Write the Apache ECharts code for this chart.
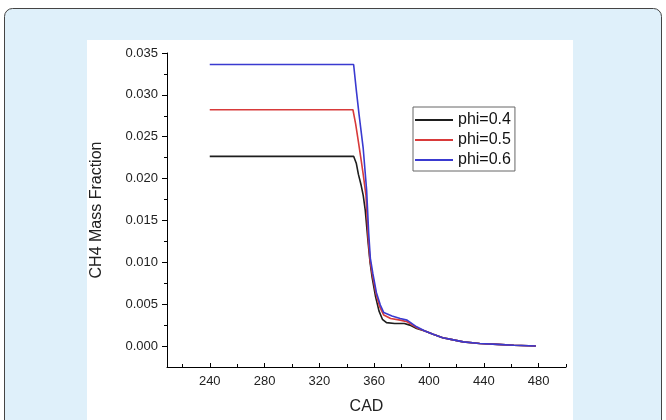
<!DOCTYPE html>
<html>
<head>
<meta charset="utf-8">
<script src="https://cdn.jsdelivr.net/npm/echarts@6/dist/echarts.min.js"></script>
<style>
html,body{margin:0;padding:0;background:#ffffff;}
#c{width:666px;height:420px;}
</style>
</head>
<body>
<div id="c"></div>
<script>
// ---- data ----
const seriesNames = ['phi=0.4', 'phi=0.5', 'phi=0.6'];
const cad04 = [240, 345, 347, 348.5, 350.5, 352, 353.5, 355.5, 357, 358.5, 361, 363.5, 366, 369, 375, 382, 386, 391, 397, 403, 410, 416, 425, 437, 450, 462, 478];
const ch4_04 = [0.02266, 0.02266, 0.0218, 0.0205, 0.0192, 0.0180, 0.0162, 0.0125, 0.0100, 0.0082, 0.0059, 0.0042, 0.0032, 0.0028, 0.0027, 0.0027, 0.0025, 0.0021, 0.0018, 0.0014, 0.0010, 0.0008, 0.0005, 0.0003, 0.0002, 0.0001, 0.0];
const cad05 = [240, 344.5, 346.5, 348.5, 350.5, 352, 354, 355.7, 357, 358.7, 361.4, 364, 367, 372, 379, 384, 391, 397, 403, 410, 416, 425, 437, 450, 462, 478];
const ch4_05 = [0.02822, 0.02822, 0.0265, 0.0244, 0.0222, 0.0205, 0.0180, 0.0128, 0.0102, 0.0085, 0.0062, 0.0047, 0.0037, 0.0033, 0.0031, 0.0029, 0.0022, 0.0018, 0.0014, 0.0010, 0.0008, 0.0005, 0.0003, 0.0002, 0.0001, 0.0];
const cad06 = [240, 345, 347, 349, 352, 354.5, 356, 357.2, 359, 361.6, 364.5, 367, 373, 379, 384, 391, 397, 403, 410, 416, 425, 437, 450, 462, 478];
const ch4_06 = [0.03363, 0.03363, 0.0305, 0.0276, 0.0236, 0.0186, 0.0135, 0.0105, 0.0087, 0.0064, 0.0049, 0.0040, 0.0036, 0.0033, 0.0031, 0.0023, 0.0018, 0.0014, 0.0010, 0.0008, 0.0005, 0.0003, 0.0002, 0.0001, 0.0];
const xMajorTicks = [240, 280, 320, 360, 400, 440, 480];
const xMinorTicks = [220, 260, 300, 340, 380, 420, 460, 500];
const yMajorTicks = [0, 0.005, 0.010, 0.015, 0.020, 0.025, 0.030, 0.035];
const yMinorTicks = [0.0025, 0.0075, 0.0125, 0.0175, 0.0225, 0.0275, 0.0325];
const xTitle = 'CAD';
const yTitle = 'CH4 Mass Fraction';

const colors = ['#1e1e1e', '#d83a3a', '#3a3ad0'];
const xs = [cad04, cad05, cad06];
const ys = [ch4_04, ch4_05, ch4_06];

const chart = echarts.init(document.getElementById('c'), null, {renderer: 'canvas'});
const font = 'Liberation Sans, Arial, sans-serif';
const X_MIN = 208.8, X_MAX = 500, Y_MIN = -0.0025, Y_MAX = 0.035;

function xAxisCfg(major) {
  return {
    type: 'value', min: X_MIN, max: X_MAX, position: 'bottom',
    axisLine: {show: major, onZero: false, lineStyle: {color: '#000', width: 1}},
    axisTick: {show: true, inside: true, length: major ? 4 : 3, customValues: major ? xMajorTicks : xMinorTicks, lineStyle: {color: '#000', width: 1}},
    axisLabel: {show: major, customValues: xMajorTicks, color: '#222', fontSize: 13, fontFamily: font, margin: 8},
    splitLine: {show: false},
    name: major ? xTitle : '', nameLocation: 'middle', nameGap: 32,
    nameTextStyle: {fontSize: 16, color: '#222', fontFamily: font}
  };
}
function yAxisCfg(major) {
  return {
    type: 'value', min: Y_MIN, max: Y_MAX, position: 'left',
    axisLine: {show: major, onZero: false, lineStyle: {color: '#000', width: 1}},
    axisTick: {show: true, inside: false, length: major ? 5 : 3, customValues: major ? yMajorTicks : yMinorTicks, lineStyle: {color: '#000', width: 1}},
    axisLabel: {show: major, customValues: yMajorTicks, color: '#222', fontSize: 13, fontFamily: font, margin: 9,
      formatter: v => v.toFixed(3)},
    splitLine: {show: false},
    name: major ? yTitle : '', nameLocation: 'middle', nameGap: 62, nameRotate: 90,
    nameTextStyle: {fontSize: 16, color: '#222', fontFamily: font}
  };
}

chart.setOption({
  animation: false,
  backgroundColor: '#ffffff',
  graphic: [
    {type: 'rect', z: -10, shape: {x: 4.5, y: 8.5, width: 657, height: 430, r: 8},
     style: {fill: '#dff0fa', stroke: '#444', lineWidth: 1}},
    {type: 'rect', z: -9, shape: {x: 87, y: 40, width: 486, height: 390},
     style: {fill: '#ffffff'}}
  ],
  grid: {left: 167, top: 53, right: 100, bottom: 48, containLabel: false},
  xAxis: [xAxisCfg(true), xAxisCfg(false)],
  yAxis: [yAxisCfg(true), yAxisCfg(false)],
  legend: {
    orient: 'vertical', left: 413, top: 107,
    data: seriesNames,
    icon: 'rect', itemWidth: 38, itemHeight: 2, itemGap: 4,
    padding: [5, 4, 3, 2],
    borderColor: '#666', borderWidth: 1, backgroundColor: '#fff',
    textStyle: {fontSize: 16, color: '#111', fontFamily: font}
  },
  series: seriesNames.map((n, i) => ({
    name: n, type: 'line', xAxisIndex: 0, yAxisIndex: 0,
    data: xs[i].map((x, j) => [x, ys[i][j]]),
    showSymbol: false, symbol: 'none',
    lineStyle: {color: colors[i], width: 1.6},
    itemStyle: {color: colors[i]},
    z: 2 + i
  }))
});
</script>
</body>
</html>
